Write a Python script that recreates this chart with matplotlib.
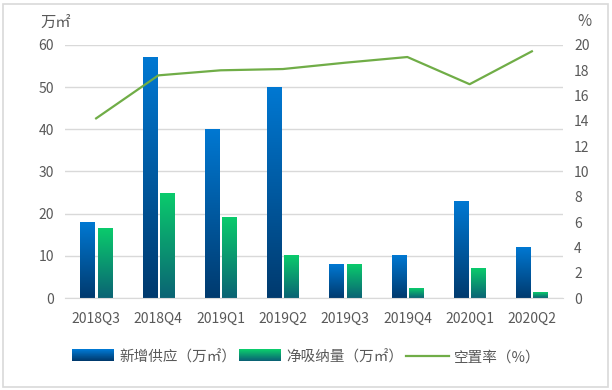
import numpy as np
import matplotlib
matplotlib.use("Agg")
import matplotlib.pyplot as plt
from matplotlib.patches import Rectangle
from matplotlib.lines import Line2D
from matplotlib.colors import LinearSegmentedColormap
from matplotlib.legend_handler import HandlerBase

plt.rcParams['font.family'] = ['Noto Sans CJK SC', 'DejaVu Sans']

quarters = ["2018Q3", "2018Q4", "2019Q1", "2019Q2", "2019Q3", "2019Q4", "2020Q1", "2020Q2"]
supply = [18, 57, 40, 50, 8, 10, 23, 12]          # 新增供应（万㎡）
absorption = [16.5, 24.8, 19.2, 10, 8, 2.3, 7, 1.3]  # 净吸纳量（万㎡）
vacancy = [14.2, 17.6, 18.0, 18.1, 18.6, 19.05, 16.9, 19.5]  # 空置率（%）

labels = ["新增供应（万㎡）", "净吸纳量（万㎡）", "空置率（%）"]

blue_cmap = LinearSegmentedColormap.from_list("b", ["#003A6E", "#0078D2"])
green_cmap = LinearSegmentedColormap.from_list("g", ["#0A6374", "#0BCB6C"])
line_color = "#70AD47"
text_color = "#595959"

fig = plt.figure(figsize=(6.12, 3.90), dpi=100)
ax = fig.add_axes([65 / 612, 1 - 298 / 390, (563 - 65) / 612, (298 - 45) / 390])

x = np.arange(len(quarters))
w = 0.23
grad = np.linspace(0, 1, 256).reshape(-1, 1)


def gradient_bars(xs, vals, cmap):
    bars = ax.bar(xs, vals, w, color="none", edgecolor="none", zorder=2)
    for b in bars:
        x0, h = b.get_x(), b.get_height()
        ax.imshow(grad, cmap=cmap, origin="lower", aspect="auto",
                  extent=[x0, x0 + b.get_width(), 0, h], zorder=2)
    return bars


gradient_bars(x - w / 2 - 0.025, supply, blue_cmap)
gradient_bars(x + w / 2 + 0.025, absorption, green_cmap)

ax.set_xlim(-0.5, len(quarters) - 0.5)
ax.set_ylim(0, 60)
ax.set_yticks(range(0, 61, 10))
ax.set_xticks(x)
ax.set_xticklabels(quarters)
ax.grid(axis="y", color="#D9D9D9", linewidth=1, zorder=0)
ax.set_axisbelow(True)
for s in ["top", "left", "right"]:
    ax.spines[s].set_visible(False)
ax.spines["bottom"].set_color("#D9D9D9")
ax.tick_params(length=0, colors=text_color, labelsize=10, pad=8)
ax.tick_params(axis="x", pad=10)

ax2 = ax.twinx()
ax2.plot(x, vacancy, color=line_color, linewidth=1.6, zorder=3)
ax2.set_ylim(0, 20)
ax2.set_yticks(range(0, 21, 2))
for s in ax2.spines.values():
    s.set_visible(False)
ax2.tick_params(length=0, colors=text_color, labelsize=10, pad=8)

fig.text(40 / 612, 1 - 22 / 390, "万㎡", color=text_color, fontsize=11, va="center", ha="left")
fig.text(584 / 612, 1 - 22 / 390, "%", color=text_color, fontsize=11, va="center", ha="center")


class GradHandler(HandlerBase):
    def __init__(self, cmap):
        super().__init__()
        self.cmap = cmap

    def create_artists(self, legend, orig_handle, xd, yd, width, height, fontsize, trans):
        n = 40
        arts = []
        for i in range(n):
            r = Rectangle((xd, yd + height * i / n), width, height / n * 1.05,
                          facecolor=self.cmap(i / (n - 1)), edgecolor="none",
                          linewidth=0, transform=trans)
            arts.append(r)
        return arts


h1 = Rectangle((0, 0), 1, 1)
h2 = Rectangle((0, 0), 1, 1)
h3 = Line2D([], [], color=line_color, linewidth=1.6)
fig.legend([h1, h2, h3], labels, loc="center", bbox_to_anchor=(306 / 612, 1 - 357 / 390),
           ncol=3, frameon=False, fontsize=10.5, labelcolor=text_color,
           handlelength=2.9, handleheight=0.8, columnspacing=0.2, handletextpad=0.35,
           handler_map={h1: GradHandler(blue_cmap), h2: GradHandler(green_cmap)})

fig.patches.append(Rectangle((3 / 612, 3 / 390), 605 / 612, 383 / 390, transform=fig.transFigure,
                             fill=False, edgecolor="#D9D9D9", linewidth=1.2))

fig.savefig("out.png", dpi=100)
